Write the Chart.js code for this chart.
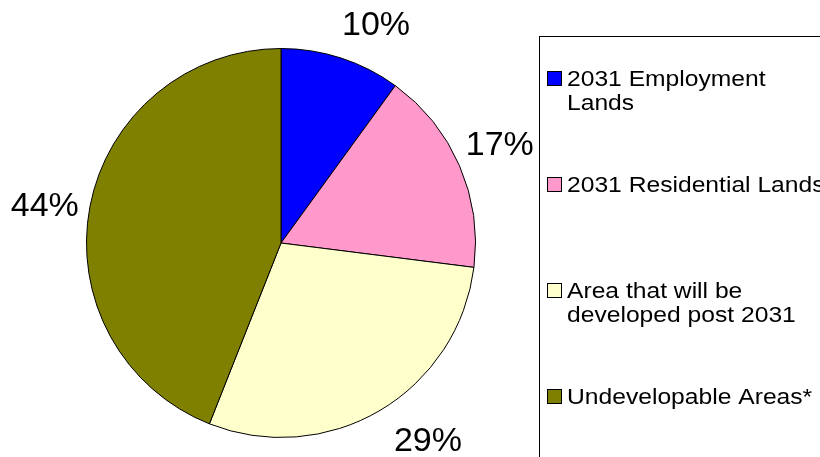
<!DOCTYPE html>
<html>
<head>
<meta charset="utf-8">
<title>Land use to 2031</title>
<script src="https://cdn.jsdelivr.net/npm/chart.js@4/dist/chart.umd.min.js"></script>
<style>
  html, body { margin: 0; padding: 0; background: #fff; }
  canvas { display: block; }
</style>
</head>
<body>
<canvas id="landChart" width="820" height="457"></canvas>
<script>
const categories = [
  ['2031 Employment', 'Lands'],
  ['2031 Residential Lands'],
  ['Area that will be', 'developed post 2031'],
  ['Undevelopable Areas*']
];
const shares = [10, 17, 29, 44];
const sliceColors = ['#0000ff', '#ff99cc', '#ffffcc', '#808000'];

const FONT = '"Liberation Sans", Arial, Helvetica, sans-serif';

// percentage labels outside the rim, on each slice's middle angle
const outsideLabels = {
  id: 'outsideLabels',
  afterDatasetsDraw(chart, args, opts) {
    const ctx = chart.ctx;
    const data = chart.data.datasets[0].data;
    const total = data.reduce((a, b) => a + b, 0);
    ctx.save();
    ctx.font = opts.size + 'px ' + FONT;
    ctx.fillStyle = '#000';
    ctx.textAlign = 'center';
    ctx.textBaseline = 'alphabetic';
    chart.getDatasetMeta(0).data.forEach((arc, i) => {
      const p = arc.getProps(['x', 'y', 'startAngle', 'endAngle', 'outerRadius'], true);
      const mid = (p.startAngle + p.endAngle) / 2;
      const d = p.outerRadius + opts.gap;
      const n = opts.nudge[i] || [0, 0];
      const cx = p.x + Math.cos(mid) * d + n[0];
      const cy = p.y + Math.sin(mid) * d + n[1];
      ctx.fillText(Math.round(data[i] / total * 100) + '%', cx, cy + opts.size * 0.358);
    });
    ctx.restore();
  }
};

// framed legend on the right, running off the edge of the canvas
const boxLegend = {
  id: 'boxLegend',
  afterDraw(chart, args, opts) {
    const ctx = chart.ctx;
    const colors = chart.data.datasets[0].backgroundColor;
    ctx.save();
    ctx.strokeStyle = '#000';
    ctx.lineWidth = 1;
    ctx.strokeRect(opts.left + 0.5, opts.top + 0.5, 400, 600);
    ctx.font = opts.size + 'px ' + FONT;
    ctx.textBaseline = 'alphabetic';
    chart.data.labels.forEach((lines, i) => {
      const base = opts.firstBaseline + i * opts.step;
      const mx = opts.left + 8;
      const my = base - 15;
      ctx.fillStyle = colors[i];
      ctx.fillRect(mx, my, 15, 15);
      ctx.strokeRect(mx + 0.5, my + 0.5, 14, 14);
      ctx.fillStyle = '#000';
      lines.forEach((line, j) => {
        ctx.save();
        ctx.translate(opts.left + 28, base + j * opts.lineHeight);
        ctx.scale(opts.stretch, 1);
        ctx.fillText(line, 0, 0);
        ctx.restore();
      });
    });
    ctx.restore();
  }
};

new Chart(document.getElementById('landChart'), {
  type: 'pie',
  data: {
    labels: categories,
    datasets: [{
      data: shares,
      backgroundColor: sliceColors,
      borderColor: '#000',
      borderWidth: 1,
      hoverOffset: 0
    }]
  },
  options: {
    responsive: false,
    animation: false,
    events: [],
    layout: { padding: { left: 86, right: 344, top: 48, bottom: 19 } },
    plugins: {
      legend: { display: false },
      tooltip: { enabled: false },
      outsideLabels: {
        size: 34,
        gap: 45,
        nudge: [[21, 8], [-1, -5], [25, -10], [-1, 6]]
      },
      boxLegend: {
        left: 539,
        top: 36,
        size: 22,
        stretch: 1.12,
        firstBaseline: 86,
        step: 106,
        lineHeight: 24
      }
    }
  },
  plugins: [outsideLabels, boxLegend]
});
</script>
</body>
</html>
